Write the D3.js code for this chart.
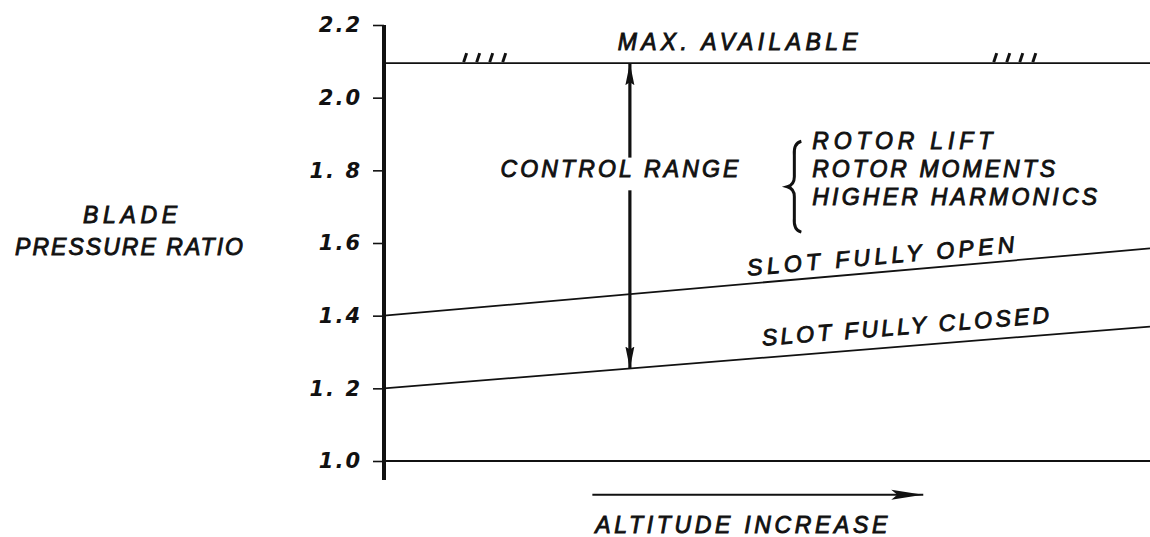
<!DOCTYPE html>
<html><head><meta charset="utf-8">
<script src="https://cdn.jsdelivr.net/npm/d3@7"></script>
<style>
html,body{margin:0;padding:0;background:#fff;}
text{font-family:"Liberation Sans","DejaVu Sans",sans-serif;font-style:italic;fill:#111;}
.lab{stroke:#111;stroke-width:0.9px;}
</style></head>
<body><svg id="chart" width="1150" height="537"></svg>
<script>
// ---- data ----
const yTickValues = [1.0, 1.2, 1.4, 1.6, 1.8, 2.0, 2.2];
const yTickLabels = ["1.0", "1. 2", "1.4", "1.6", "1. 8", "2.0", "2.2"];
const altitude = [0, 1];                 // relative altitude (left → right)
const maxAvailable = [2.095, 2.095];
const slotFullyOpen = [1.4, 1.585];
const slotFullyClosed = [1.2, 1.37];
const baseLine = [1.0, 1.0];
const controlArrowX = 0.321;
const controlGap = [1.835, 1.745];
const hatchLeft = [0.104, 0.121, 0.138, 0.155];
const hatchRight = [0.796, 0.813, 0.830, 0.847];
const altitudeArrow = [0.272, 0.704];
const altitudeArrowY = 0.907;
const braceItems = ["ROTOR LIFT", "ROTOR MOMENTS", "HIGHER HARMONICS"];

// ---- layout ----
const svg = d3.select("#chart");
const x = d3.scaleLinear().domain([0, 1]).range([384, 1150]);
const y = d3.scaleLinear().domain([1.0, 2.2]).range([461, 25]);
const ink = "#111";
const FS = 23;

const defs = svg.append("defs");
defs.append("marker").attr("id", "headV").attr("viewBox", "0 0 22 10")
  .attr("refX", 22).attr("refY", 5).attr("markerWidth", 22).attr("markerHeight", 10)
  .attr("markerUnits", "userSpaceOnUse").attr("orient", "auto")
  .append("path").attr("d", "M0,0.5 L22,5 L0,9.5 L3,5 Z").attr("fill", ink);
defs.append("marker").attr("id", "headH").attr("viewBox", "0 0 32 12")
  .attr("refX", 32).attr("refY", 6).attr("markerWidth", 32).attr("markerHeight", 12)
  .attr("markerUnits", "userSpaceOnUse").attr("orient", "auto")
  .append("path").attr("d", "M0,1 L32,6 L0,11 L6,6 Z").attr("fill", ink);

// y axis
const yAxis = d3.axisLeft(y).tickValues(yTickValues)
  .tickFormat((d, i) => yTickLabels[i]).tickSize(11).tickPadding(11);
const gy = svg.append("g").attr("transform", `translate(${x(0)},0)`).call(yAxis);
gy.select(".domain").remove();
gy.selectAll(".tick line").attr("stroke", ink).attr("stroke-width", 1.6);
gy.selectAll(".tick text").attr("font-size", 21).attr("font-weight", "bold")
  .attr("letter-spacing", 2).style("font-family", "'DejaVu Sans',sans-serif").style("font-style", "italic");
svg.append("line").attr("x1", x(0)).attr("x2", x(0))
  .attr("y1", y(2.2)).attr("y2", y(0.948)).attr("stroke", ink).attr("stroke-width", 4);

// lines
const line = d3.line().x((d, i) => x(altitude[i])).y(d => y(d));
[maxAvailable, slotFullyOpen, slotFullyClosed, baseLine].forEach(s => {
  svg.append("path").datum(s).attr("d", line).attr("fill", "none")
    .attr("stroke", ink).attr("stroke-width", 1.8);
});

// hatch marks
hatchLeft.concat(hatchRight).forEach(h => {
  svg.append("line").attr("x1", x(h)).attr("x2", x(h) + 3)
    .attr("y1", y(maxAvailable[0]) - 1).attr("y2", y(maxAvailable[0]) - 10)
    .attr("stroke", ink).attr("stroke-width", 3);
});

// control range arrow
const slotClosedAt = slotFullyClosed[0] + (slotFullyClosed[1] - slotFullyClosed[0]) * controlArrowX;
svg.append("line").attr("x1", x(controlArrowX)).attr("x2", x(controlArrowX))
  .attr("y1", y(controlGap[0])).attr("y2", y(maxAvailable[0]))
  .attr("stroke", ink).attr("stroke-width", 3.2).attr("marker-end", "url(#headV)");
svg.append("line").attr("x1", x(controlArrowX)).attr("x2", x(controlArrowX))
  .attr("y1", y(controlGap[1])).attr("y2", y(slotClosedAt))
  .attr("stroke", ink).attr("stroke-width", 3.2).attr("marker-end", "url(#headV)");

function label(t, xp, yp, len, size) {
  return svg.append("text").attr("class", "lab").attr("x", xp).attr("y", yp)
    .attr("font-size", size || FS).attr("textLength", len).attr("lengthAdjust", "spacing").text(t);
}
// texts
label("MAX. AVAILABLE", x(0.305), y(2.13), 240);
label("CONTROL RANGE", x(0.152), y(1.782), 238);
// brace
const bx = x(0.537), by0 = y(1.88), by1 = y(1.63), bm = (by0 + by1) / 2;
svg.append("path").attr("fill", "none").attr("stroke", ink).attr("stroke-width", 3)
  .attr("d", `M${bx + 6},${by0} Q${bx - 2},${by0 + 2} ${bx - 1},${by0 + 14} L${bx - 1},${bm - 10}
   Q${bx - 1},${bm - 2} ${bx - 8},${bm} Q${bx - 1},${bm + 2} ${bx - 1},${bm + 10}
   L${bx - 1},${by1 - 14} Q${bx - 2},${by1 - 2} ${bx + 6},${by1}`);
const braceLens = [180, 243, 285];
braceItems.forEach((t, i) => label(t, x(0.559), y(1.86) + i * 28, braceLens[i]));

// slanted labels
function slanted(series, t, xp, off, len) {
  const ang = Math.atan2(y(series[1]) - y(series[0]), x(1) - x(0)) * 180 / Math.PI;
  const yv = series[0] + (series[1] - series[0]) * xp;
  svg.append("text").attr("class", "lab")
    .attr("transform", `translate(${x(xp)},${y(yv) - off}) rotate(${ang})`)
    .attr("font-size", FS).attr("textLength", len).attr("lengthAdjust", "spacing").text(t);
}
slanted(slotFullyOpen, "SLOT FULLY OPEN", 0.475, 8, 268);
slanted(slotFullyClosed, "SLOT FULLY CLOSED", 0.494, 12, 288);

// y title
label("BLADE", 83, 223, 94);
label("PRESSURE RATIO", 15, 255, 228);

// altitude arrow
svg.append("line").attr("x1", x(altitudeArrow[0])).attr("x2", x(altitudeArrow[1]))
  .attr("y1", y(altitudeArrowY)).attr("y2", y(altitudeArrowY))
  .attr("stroke", ink).attr("stroke-width", 2).attr("marker-end", "url(#headH)");
label("ALTITUDE  INCREASE", x(altitudeArrow[0]) + 3, 533, 292);
</script></body></html>
